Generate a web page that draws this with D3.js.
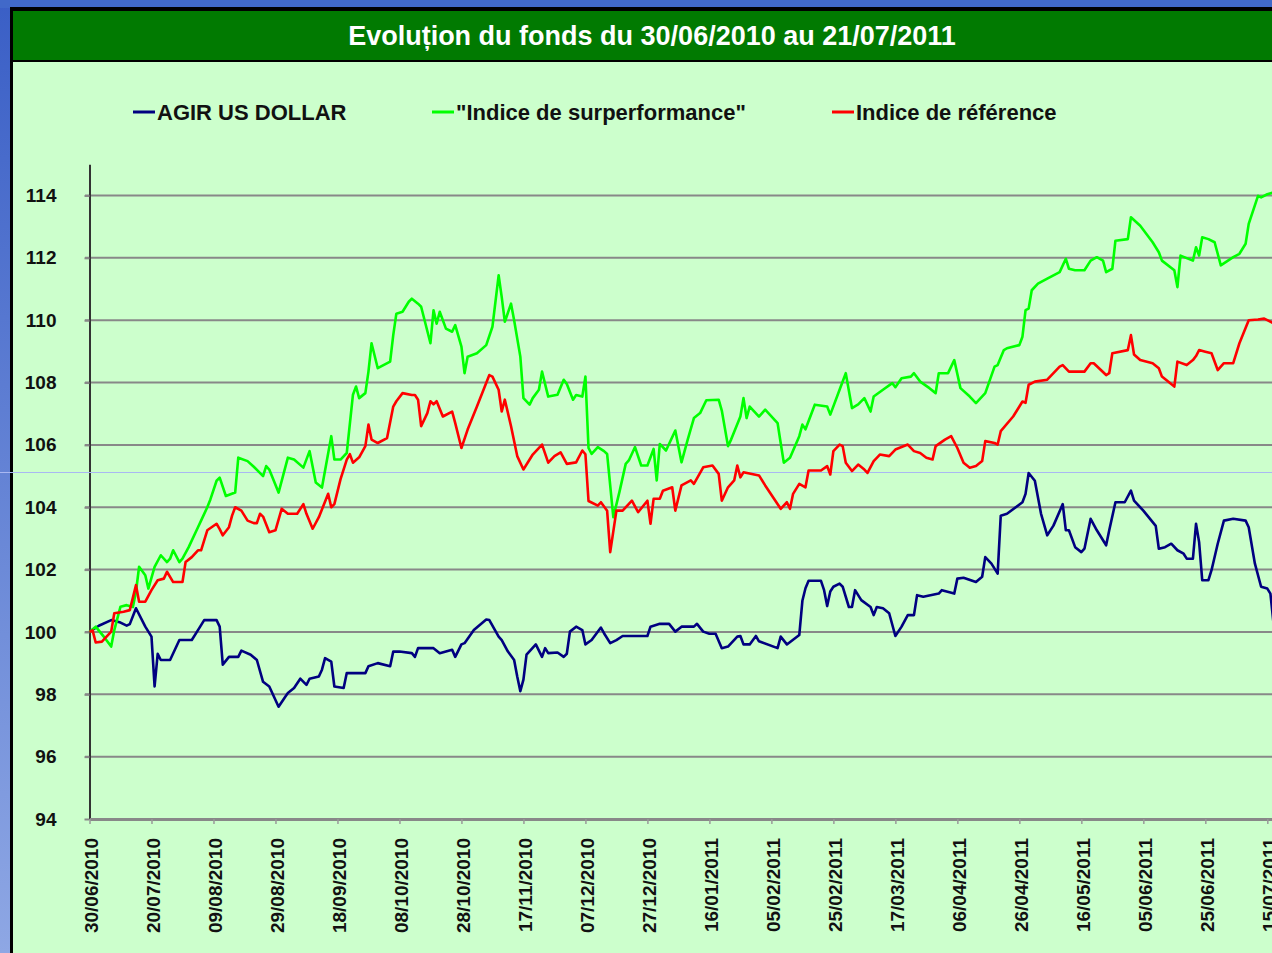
<!DOCTYPE html>
<html>
<head>
<meta charset="utf-8">
<script src="https://cdn.jsdelivr.net/npm/d3@7"></script>
<style>
  html, body { margin: 0; padding: 0; background: #4169c9; overflow: hidden; }
  svg { display: block; font-family: "Liberation Sans", Arial, sans-serif; }
</style>
</head>
<body>
<svg id="chart" width="1272" height="953"></svg>
<script>
const titleText = "Evoluțion du fonds du 30/06/2010 au 21/07/2011";
const seriesNames = ["AGIR US DOLLAR", "\"Indice de surperformance\"", "Indice de référence"];
const yTicks = [94, 96, 98, 100, 102, 104, 106, 108, 110, 112, 114];
const dateTicks = ["30/06/2010", "20/07/2010", "09/08/2010", "29/08/2010", "18/09/2010", "08/10/2010",
  "28/10/2010", "17/11/2010", "07/12/2010", "27/12/2010", "16/01/2011", "05/02/2011", "25/02/2011",
  "17/03/2011", "06/04/2011", "26/04/2011", "16/05/2011", "05/06/2011", "25/06/2011", "15/07/2011"];
const periodStart = "30/06/2010";
const periodEnd = "21/07/2011";

// AGIR US DOLLAR (base 100)
const agirUsDollar = [
  ["30/06/2010", 100.0], ["03/07/2010", 100.2], ["07/07/2010", 100.38], ["10/07/2010", 100.3],
  ["12/07/2010", 100.2], ["13/07/2010", 100.25], ["15/07/2010", 100.76], ["18/07/2010", 100.17],
  ["20/07/2010", 99.85], ["21/07/2010", 98.25], ["22/07/2010", 99.3], ["23/07/2010", 99.1],
  ["26/07/2010", 99.1], ["29/07/2010", 99.74], ["02/08/2010", 99.74], ["04/08/2010", 100.06],
  ["06/08/2010", 100.38], ["10/08/2010", 100.38], ["11/08/2010", 100.17], ["12/08/2010", 98.95],
  ["14/08/2010", 99.2], ["17/08/2010", 99.2], ["18/08/2010", 99.4], ["21/08/2010", 99.27],
  ["23/08/2010", 99.1], ["25/08/2010", 98.4], ["27/08/2010", 98.25], ["30/08/2010", 97.6],
  ["01/09/2010", 97.9], ["02/09/2010", 98.04], ["04/09/2010", 98.2], ["06/09/2010", 98.5],
  ["08/09/2010", 98.3], ["09/09/2010", 98.5], ["12/09/2010", 98.57], ["13/09/2010", 98.79],
  ["14/09/2010", 99.16], ["16/09/2010", 99.05], ["17/09/2010", 98.25], ["20/09/2010", 98.2],
  ["21/09/2010", 98.68], ["27/09/2010", 98.68], ["28/09/2010", 98.9], ["01/10/2010", 99.0],
  ["05/10/2010", 98.9], ["06/10/2010", 99.37], ["08/10/2010", 99.37], ["12/10/2010", 99.32],
  ["13/10/2010", 99.2], ["14/10/2010", 99.48], ["19/10/2010", 99.48], ["21/10/2010", 99.32],
  ["25/10/2010", 99.43], ["26/10/2010", 99.2], ["28/10/2010", 99.6], ["29/10/2010", 99.64],
  ["01/11/2010", 100.06], ["05/11/2010", 100.4], ["06/11/2010", 100.38], ["09/11/2010", 99.85],
  ["10/11/2010", 99.74], ["12/11/2010", 99.37], ["14/11/2010", 99.1], ["15/11/2010", 98.57],
  ["16/11/2010", 98.1], ["17/11/2010", 98.47], ["18/11/2010", 99.27], ["21/11/2010", 99.6],
  ["23/11/2010", 99.2], ["24/11/2010", 99.48], ["25/11/2010", 99.32], ["28/11/2010", 99.34],
  ["30/11/2010", 99.2], ["01/12/2010", 99.3], ["02/12/2010", 100.01], ["04/12/2010", 100.17],
  ["06/12/2010", 100.06], ["07/12/2010", 99.6], ["09/12/2010", 99.74], ["12/12/2010", 100.14],
  ["13/12/2010", 99.96], ["15/12/2010", 99.64], ["17/12/2010", 99.74], ["19/12/2010", 99.87],
  ["27/12/2010", 99.87], ["28/12/2010", 100.17], ["31/12/2010", 100.26], ["03/01/2011", 100.26],
  ["05/01/2011", 100.01], ["07/01/2011", 100.17], ["11/01/2011", 100.17], ["12/01/2011", 100.26],
  ["14/01/2011", 100.01], ["16/01/2011", 99.94], ["18/01/2011", 99.94], ["20/01/2011", 99.48],
  ["22/01/2011", 99.53], ["25/01/2011", 99.85], ["26/01/2011", 99.87], ["27/01/2011", 99.6],
  ["29/01/2011", 99.6], ["31/01/2011", 99.87], ["01/02/2011", 99.7], ["07/02/2011", 99.48],
  ["08/02/2011", 99.85], ["10/02/2011", 99.6], ["14/02/2011", 99.9], ["15/02/2011", 101.0],
  ["16/02/2011", 101.4], ["17/02/2011", 101.64], ["21/02/2011", 101.64], ["22/02/2011", 101.34],
  ["23/02/2011", 100.83], ["24/02/2011", 101.3], ["25/02/2011", 101.45], ["27/02/2011", 101.55],
  ["28/02/2011", 101.45], ["02/03/2011", 100.8], ["03/03/2011", 100.8], ["04/03/2011", 101.34],
  ["06/03/2011", 101.02], ["09/03/2011", 100.8], ["10/03/2011", 100.54], ["11/03/2011", 100.8],
  ["13/03/2011", 100.76], ["15/03/2011", 100.6], ["17/03/2011", 99.87], ["19/03/2011", 100.17],
  ["21/03/2011", 100.54], ["23/03/2011", 100.54], ["24/03/2011", 101.18], ["26/03/2011", 101.13],
  ["31/03/2011", 101.23], ["01/04/2011", 101.34], ["05/04/2011", 101.23], ["06/04/2011", 101.71],
  ["08/04/2011", 101.74], ["12/04/2011", 101.6], ["14/04/2011", 101.77], ["15/04/2011", 102.4],
  ["17/04/2011", 102.19], ["19/04/2011", 101.87], ["20/04/2011", 103.73], ["22/04/2011", 103.79],
  ["27/04/2011", 104.16], ["28/04/2011", 104.43], ["29/04/2011", 105.1], ["01/05/2011", 104.85],
  ["03/05/2011", 103.79], ["05/05/2011", 103.1], ["07/05/2011", 103.41], ["10/05/2011", 104.1],
  ["11/05/2011", 103.26], ["12/05/2011", 103.26], ["14/05/2011", 102.72], ["16/05/2011", 102.56],
  ["17/05/2011", 102.67], ["19/05/2011", 103.63], ["21/05/2011", 103.26], ["24/05/2011", 102.78],
  ["25/05/2011", 103.26], ["27/05/2011", 104.16], ["30/05/2011", 104.16], ["01/06/2011", 104.53],
  ["02/06/2011", 104.21], ["05/06/2011", 103.89], ["09/06/2011", 103.4], ["10/06/2011", 102.67],
  ["12/06/2011", 102.72], ["14/06/2011", 102.83], ["16/06/2011", 102.62], ["18/06/2011", 102.51],
  ["19/06/2011", 102.35], ["21/06/2011", 102.35], ["22/06/2011", 103.47], ["23/06/2011", 102.88],
  ["24/06/2011", 101.66], ["26/06/2011", 101.66], ["27/06/2011", 101.98], ["29/06/2011", 102.83],
  ["01/07/2011", 103.57], ["04/07/2011", 103.63], ["08/07/2011", 103.57], ["09/07/2011", 103.36],
  ["11/07/2011", 102.19], ["13/07/2011", 101.45], ["15/07/2011", 101.39], ["16/07/2011", 101.23],
  ["17/07/2011", 100.28]
];

// "Indice de surperformance"
const indiceSurperformance = [
  ["30/06/2010", 100.0], ["02/07/2010", 100.17], ["05/07/2010", 99.8], ["07/07/2010", 99.53],
  ["08/07/2010", 100.06], ["10/07/2010", 100.81], ["12/07/2010", 100.86], ["14/07/2010", 100.8],
  ["15/07/2010", 101.29], ["16/07/2010", 102.09], ["18/07/2010", 101.82], ["19/07/2010", 101.39],
  ["21/07/2010", 102.09], ["23/07/2010", 102.46], ["25/07/2010", 102.24], ["26/07/2010", 102.35],
  ["27/07/2010", 102.62], ["29/07/2010", 102.24], ["30/07/2010", 102.35], ["01/08/2010", 102.72],
  ["04/08/2010", 103.36], ["05/08/2010", 103.57], ["07/08/2010", 104.0], ["08/08/2010", 104.25],
  ["10/08/2010", 104.85], ["11/08/2010", 104.95], ["13/08/2010", 104.36], ["16/08/2010", 104.47],
  ["17/08/2010", 105.59], ["20/08/2010", 105.48], ["22/08/2010", 105.3], ["25/08/2010", 105.0],
  ["26/08/2010", 105.32], ["27/08/2010", 105.21], ["30/08/2010", 104.47], ["02/09/2010", 105.59],
  ["04/09/2010", 105.53], ["07/09/2010", 105.27], ["09/09/2010", 105.8], ["11/09/2010", 104.79],
  ["13/09/2010", 104.63], ["16/09/2010", 106.28], ["17/09/2010", 105.53], ["19/09/2010", 105.53],
  ["21/09/2010", 105.74], ["23/09/2010", 107.61], ["24/09/2010", 107.87], ["25/09/2010", 107.5],
  ["27/09/2010", 107.66], ["28/09/2010", 108.35], ["29/09/2010", 109.26], ["01/10/2010", 108.46],
  ["05/10/2010", 108.67], ["06/10/2010", 109.52], ["07/10/2010", 110.21], ["09/10/2010", 110.27],
  ["11/10/2010", 110.59], ["12/10/2010", 110.69], ["14/10/2010", 110.53], ["15/10/2010", 110.43],
  ["18/10/2010", 109.26], ["19/10/2010", 110.32], ["20/10/2010", 109.89], ["21/10/2010", 110.27],
  ["23/10/2010", 109.73], ["25/10/2010", 109.63], ["26/10/2010", 109.84], ["28/10/2010", 109.15],
  ["29/10/2010", 108.3], ["30/10/2010", 108.83], ["02/11/2010", 108.94], ["05/11/2010", 109.2],
  ["07/11/2010", 109.79], ["09/11/2010", 111.44], ["10/11/2010", 110.74], ["11/11/2010", 109.95],
  ["13/11/2010", 110.53], ["14/11/2010", 110.0], ["16/11/2010", 108.83], ["17/11/2010", 107.5],
  ["19/11/2010", 107.29], ["20/11/2010", 107.5], ["22/11/2010", 107.77], ["23/11/2010", 108.35],
  ["25/11/2010", 107.55], ["28/11/2010", 107.61], ["30/11/2010", 108.09], ["01/12/2010", 107.95],
  ["03/12/2010", 107.45], ["04/12/2010", 107.6], ["06/12/2010", 107.55], ["07/12/2010", 108.19],
  ["08/12/2010", 105.9], ["09/12/2010", 105.71], ["11/12/2010", 105.93], ["13/12/2010", 105.8],
  ["14/12/2010", 105.71], ["16/12/2010", 103.68], ["18/12/2010", 104.5], ["20/12/2010", 105.39],
  ["21/12/2010", 105.5], ["23/12/2010", 105.93], ["25/12/2010", 105.34], ["27/12/2010", 105.34],
  ["29/12/2010", 105.87], ["30/12/2010", 104.86], ["31/12/2010", 106.03], ["02/01/2011", 105.82],
  ["05/01/2011", 106.46], ["07/01/2011", 105.44], ["09/01/2011", 106.17], ["11/01/2011", 106.86],
  ["13/01/2011", 107.02], ["15/01/2011", 107.43], ["19/01/2011", 107.45], ["20/01/2011", 107.1],
  ["22/01/2011", 105.96], ["23/01/2011", 106.17], ["26/01/2011", 106.91], ["27/01/2011", 107.5],
  ["28/01/2011", 106.86], ["29/01/2011", 107.23], ["01/02/2011", 106.91], ["03/02/2011", 107.13],
  ["07/02/2011", 106.7], ["08/02/2011", 106.06], ["09/02/2011", 105.43], ["11/02/2011", 105.59],
  ["14/02/2011", 106.28], ["15/02/2011", 106.65], ["16/02/2011", 106.5], ["19/02/2011", 107.29],
  ["23/02/2011", 107.23], ["24/02/2011", 106.97], ["27/02/2011", 107.77], ["01/03/2011", 108.3],
  ["03/03/2011", 107.18], ["05/03/2011", 107.3], ["07/03/2011", 107.5], ["09/03/2011", 107.07],
  ["10/03/2011", 107.55], ["13/03/2011", 107.77], ["16/03/2011", 107.98], ["17/03/2011", 107.85],
  ["19/03/2011", 108.14], ["22/03/2011", 108.19], ["23/03/2011", 108.3], ["25/03/2011", 108.03],
  ["28/03/2011", 107.82], ["30/03/2011", 107.66], ["31/03/2011", 108.3], ["03/04/2011", 108.3],
  ["05/04/2011", 108.72], ["07/04/2011", 107.82], ["10/04/2011", 107.55], ["12/04/2011", 107.34],
  ["15/04/2011", 107.66], ["18/04/2011", 108.51], ["19/04/2011", 108.56], ["21/04/2011", 109.04],
  ["22/04/2011", 109.1], ["26/04/2011", 109.2], ["27/04/2011", 109.47], ["28/04/2011", 110.32],
  ["29/04/2011", 110.37], ["30/04/2011", 110.96], ["02/05/2011", 111.17], ["05/05/2011", 111.33],
  ["09/05/2011", 111.54], ["11/05/2011", 111.97], ["12/05/2011", 111.65], ["14/05/2011", 111.6],
  ["17/05/2011", 111.6], ["19/05/2011", 111.91], ["21/05/2011", 112.02], ["23/05/2011", 111.91],
  ["24/05/2011", 111.54], ["26/05/2011", 111.65], ["27/05/2011", 112.55], ["31/05/2011", 112.6],
  ["01/06/2011", 113.3], ["04/06/2011", 113.03], ["08/06/2011", 112.5], ["10/06/2011", 112.18],
  ["11/06/2011", 111.91], ["15/06/2011", 111.6], ["16/06/2011", 111.06], ["17/06/2011", 112.07],
  ["21/06/2011", 111.91], ["22/06/2011", 112.34], ["23/06/2011", 112.07], ["24/06/2011", 112.66],
  ["26/06/2011", 112.6], ["28/06/2011", 112.5], ["30/06/2011", 111.76], ["04/07/2011", 112.02],
  ["06/07/2011", 112.13], ["08/07/2011", 112.45], ["09/07/2011", 113.09], ["12/07/2011", 113.99],
  ["13/07/2011", 113.94], ["15/07/2011", 114.04], ["17/07/2011", 114.1]
];

// Indice de référence
const indiceReference = [
  ["30/06/2010", 100.0], ["01/07/2010", 100.05], ["02/07/2010", 99.66], ["04/07/2010", 99.69],
  ["07/07/2010", 100.01], ["08/07/2010", 100.6], ["11/07/2010", 100.65], ["13/07/2010", 100.7],
  ["15/07/2010", 101.5], ["16/07/2010", 100.97], ["18/07/2010", 100.97], ["20/07/2010", 101.34],
  ["22/07/2010", 101.66], ["24/07/2010", 101.71], ["25/07/2010", 101.93], ["27/07/2010", 101.6],
  ["30/07/2010", 101.6], ["31/07/2010", 102.24], ["02/08/2010", 102.4], ["04/08/2010", 102.62],
  ["05/08/2010", 102.62], ["07/08/2010", 103.26], ["10/08/2010", 103.47], ["11/08/2010", 103.3],
  ["12/08/2010", 103.1], ["14/08/2010", 103.36], ["15/08/2010", 103.73], ["16/08/2010", 104.0],
  ["18/08/2010", 103.89], ["20/08/2010", 103.57], ["22/08/2010", 103.49], ["23/08/2010", 103.49],
  ["24/08/2010", 103.79], ["25/08/2010", 103.7], ["27/08/2010", 103.2], ["29/08/2010", 103.26],
  ["31/08/2010", 103.95], ["02/09/2010", 103.79], ["05/09/2010", 103.79], ["07/09/2010", 104.1],
  ["08/09/2010", 103.79], ["10/09/2010", 103.31], ["12/09/2010", 103.68], ["15/09/2010", 104.43],
  ["16/09/2010", 104.0], ["17/09/2010", 104.1], ["19/09/2010", 104.9], ["21/09/2010", 105.53],
  ["22/09/2010", 105.7], ["23/09/2010", 105.43], ["25/09/2010", 105.6], ["27/09/2010", 105.96],
  ["28/09/2010", 106.65], ["29/09/2010", 106.17], ["01/10/2010", 106.06], ["04/10/2010", 106.22],
  ["06/10/2010", 107.23], ["07/10/2010", 107.4], ["09/10/2010", 107.66], ["12/10/2010", 107.6],
  ["13/10/2010", 107.6], ["14/10/2010", 107.45], ["15/10/2010", 106.6], ["17/10/2010", 107.02],
  ["18/10/2010", 107.4], ["19/10/2010", 107.3], ["20/10/2010", 107.4], ["22/10/2010", 106.91],
  ["25/10/2010", 107.07], ["26/10/2010", 106.7], ["28/10/2010", 105.9], ["30/10/2010", 106.49],
  ["02/11/2010", 107.23], ["06/11/2010", 108.24], ["07/11/2010", 108.19], ["09/11/2010", 107.77],
  ["10/11/2010", 107.07], ["11/11/2010", 107.45], ["13/11/2010", 106.6], ["15/11/2010", 105.64],
  ["17/11/2010", 105.21], ["20/11/2010", 105.69], ["23/11/2010", 106.01], ["25/11/2010", 105.43],
  ["27/11/2010", 105.64], ["29/11/2010", 105.76], ["01/12/2010", 105.39], ["04/12/2010", 105.44],
  ["06/12/2010", 105.82], ["07/12/2010", 105.7], ["08/12/2010", 104.2], ["11/12/2010", 104.05],
  ["12/12/2010", 104.16], ["14/12/2010", 103.89], ["15/12/2010", 102.56], ["17/12/2010", 103.89],
  ["19/12/2010", 103.89], ["22/12/2010", 104.21], ["24/12/2010", 103.84], ["27/12/2010", 104.21],
  ["28/12/2010", 103.47], ["29/12/2010", 104.27], ["31/12/2010", 104.27], ["01/01/2011", 104.53],
  ["04/01/2011", 104.64], ["05/01/2011", 103.89], ["07/01/2011", 104.7], ["10/01/2011", 104.86],
  ["11/01/2011", 104.75], ["14/01/2011", 105.28], ["17/01/2011", 105.34], ["19/01/2011", 105.07],
  ["20/01/2011", 104.21], ["22/01/2011", 104.64], ["24/01/2011", 104.86], ["25/01/2011", 105.34],
  ["26/01/2011", 104.96], ["27/01/2011", 105.12], ["01/02/2011", 105.02], ["03/02/2011", 104.7],
  ["08/02/2011", 103.95], ["10/02/2011", 104.16], ["11/02/2011", 103.95], ["12/02/2011", 104.43],
  ["14/02/2011", 104.75], ["16/02/2011", 104.64], ["17/02/2011", 105.18], ["21/02/2011", 105.18],
  ["23/02/2011", 105.32], ["24/02/2011", 105.05], ["25/02/2011", 105.8], ["27/02/2011", 106.01],
  ["28/02/2011", 105.96], ["01/03/2011", 105.43], ["03/03/2011", 105.16], ["05/03/2011", 105.37],
  ["07/03/2011", 105.21], ["08/03/2011", 105.1], ["10/03/2011", 105.48], ["12/03/2011", 105.69],
  ["15/03/2011", 105.64], ["17/03/2011", 105.85], ["21/03/2011", 106.01], ["23/03/2011", 105.8],
  ["25/03/2011", 105.74], ["27/03/2011", 105.59], ["29/03/2011", 105.53], ["30/03/2011", 105.96],
  ["02/04/2011", 106.17], ["04/04/2011", 106.28], ["06/04/2011", 105.9], ["08/04/2011", 105.43],
  ["10/04/2011", 105.27], ["12/04/2011", 105.32], ["14/04/2011", 105.48], ["15/04/2011", 106.12],
  ["18/04/2011", 106.06], ["19/04/2011", 106.01], ["20/04/2011", 106.44], ["24/04/2011", 106.91],
  ["27/04/2011", 107.39], ["28/04/2011", 107.35], ["29/04/2011", 107.93], ["01/05/2011", 108.03],
  ["05/05/2011", 108.09], ["09/05/2011", 108.51], ["10/05/2011", 108.56], ["12/05/2011", 108.35],
  ["17/05/2011", 108.35], ["19/05/2011", 108.62], ["20/05/2011", 108.62], ["24/05/2011", 108.24],
  ["25/05/2011", 108.3], ["26/05/2011", 108.94], ["31/05/2011", 109.04], ["01/06/2011", 109.52],
  ["02/06/2011", 108.9], ["04/06/2011", 108.72], ["08/06/2011", 108.62], ["10/06/2011", 108.46],
  ["11/06/2011", 108.19], ["15/06/2011", 107.87], ["16/06/2011", 108.67], ["19/06/2011", 108.56],
  ["21/06/2011", 108.72], ["22/06/2011", 108.85], ["23/06/2011", 109.04], ["25/06/2011", 108.99],
  ["27/06/2011", 108.94], ["29/06/2011", 108.4], ["01/07/2011", 108.62], ["04/07/2011", 108.62],
  ["06/07/2011", 109.26], ["09/07/2011", 110.0], ["12/07/2011", 110.02], ["14/07/2011", 110.05],
  ["15/07/2011", 110.0], ["17/07/2011", 109.9]
];

const seriesColors = ["#000080", "#00ff00", "#ff0000"];

const svg = d3.select("#chart");
const parseDate = d3.utcParse("%d/%m/%Y");

// background, frame, title band
const defs = svg.append("defs");
const grad = defs.append("linearGradient")
  .attr("id", "sideGrad").attr("x1", 0).attr("y1", 0).attr("x2", 0).attr("y2", 1);
grad.append("stop").attr("offset", "0%").attr("stop-color", "#3a5fc6");
grad.append("stop").attr("offset", "100%").attr("stop-color", "#8ea7e4");

svg.append("rect").attr("width", 1272).attr("height", 953).attr("fill", "url(#sideGrad)");
svg.append("rect").attr("width", 1272).attr("height", 8).attr("fill", "#4169c9");
svg.append("rect").attr("x", 10).attr("y", 7).attr("width", 1300).attr("height", 1000).attr("fill", "#000");
svg.append("rect").attr("x", 13).attr("y", 11).attr("width", 1300).attr("height", 49).attr("fill", "#017a01");
svg.append("rect").attr("x", 13).attr("y", 62).attr("width", 1300).attr("height", 1000).attr("fill", "#ccffcc");

svg.append("text")
  .attr("x", 652).attr("y", 45)
  .attr("text-anchor", "middle")
  .attr("fill", "#fff")
  .attr("font-size", "27px")
  .attr("font-weight", "bold")
  .text(titleText);

// scales
const x = d3.scaleTime()
  .domain([parseDate(periodStart), parseDate(periodEnd)])
  .range([89.5, 89.5 + 386 * 3.0995]);
const y = d3.scaleLinear().domain([94, 115]).range([819, 164.3]);

// gridlines
svg.append("g")
  .selectAll("line")
  .data(yTicks.filter(d => d > 94))
  .enter()
  .append("line")
  .attr("x1", 85).attr("x2", 1300)
  .attr("y1", d => y(d)).attr("y2", d => y(d))
  .attr("stroke", "#888").attr("stroke-width", 2);

// y axis
const yAxis = svg.append("g")
  .attr("transform", "translate(89.5,0)")
  .call(d3.axisLeft(y).tickValues(yTicks).tickSize(5).tickSizeOuter(0).tickPadding(28));
yAxis.select(".domain").attr("stroke", "#333").attr("stroke-width", 2);
yAxis.selectAll(".tick line").attr("stroke", "#888").attr("stroke-width", 2);
yAxis.selectAll(".tick text")
  .attr("fill", "#111")
  .attr("font-size", "19px")
  .attr("font-weight", "bold")
  .attr("font-family", "Liberation Sans, Arial, sans-serif");

// x axis
const xAxis = svg.append("g")
  .attr("transform", "translate(0,819)")
  .call(d3.axisBottom(x).tickValues(dateTicks.map(parseDate)).tickSize(5).tickSizeOuter(0)
    .tickFormat(d3.utcFormat("%d/%m/%Y")));
xAxis.select(".domain").attr("stroke", "#888").attr("stroke-width", 3);
xAxis.selectAll(".tick line").attr("stroke", "#999").attr("stroke-width", 1.5);
xAxis.selectAll(".tick text")
  .attr("fill", "#111")
  .attr("font-size", "19px")
  .attr("font-weight", "bold")
  .attr("font-family", "Liberation Sans, Arial, sans-serif")
  .attr("text-anchor", "end")
  .attr("dy", null)
  .attr("y", 0)
  .attr("transform", "translate(8,19) rotate(-90)");

// faint guide line across the slide
svg.append("line")
  .attr("x1", 0).attr("x2", 1272).attr("y1", 472.5).attr("y2", 472.5)
  .attr("stroke", "#a9b8f2").attr("stroke-width", 1);

// series
const line = d3.line()
  .x(d => x(parseDate(d[0])))
  .y(d => y(d[1]));

[agirUsDollar, indiceSurperformance, indiceReference].forEach((data, i) => {
  svg.append("path")
    .datum(data)
    .attr("fill", "none")
    .attr("stroke", seriesColors[i])
    .attr("stroke-width", 2.6)
    .attr("stroke-linejoin", "round")
    .attr("d", line);
});

// legend
const legendX = [133, 432, 832];
const legend = svg.append("g");
seriesNames.forEach((name, i) => {
  legend.append("line")
    .attr("x1", legendX[i]).attr("x2", legendX[i] + 22)
    .attr("y1", 112).attr("y2", 112)
    .attr("stroke", seriesColors[i]).attr("stroke-width", 3);
  legend.append("text")
    .attr("x", legendX[i] + 24).attr("y", 120)
    .attr("fill", "#111")
    .attr("font-size", "22px")
    .attr("font-weight", "bold")
    .text(name);
});
</script>
</body>
</html>
